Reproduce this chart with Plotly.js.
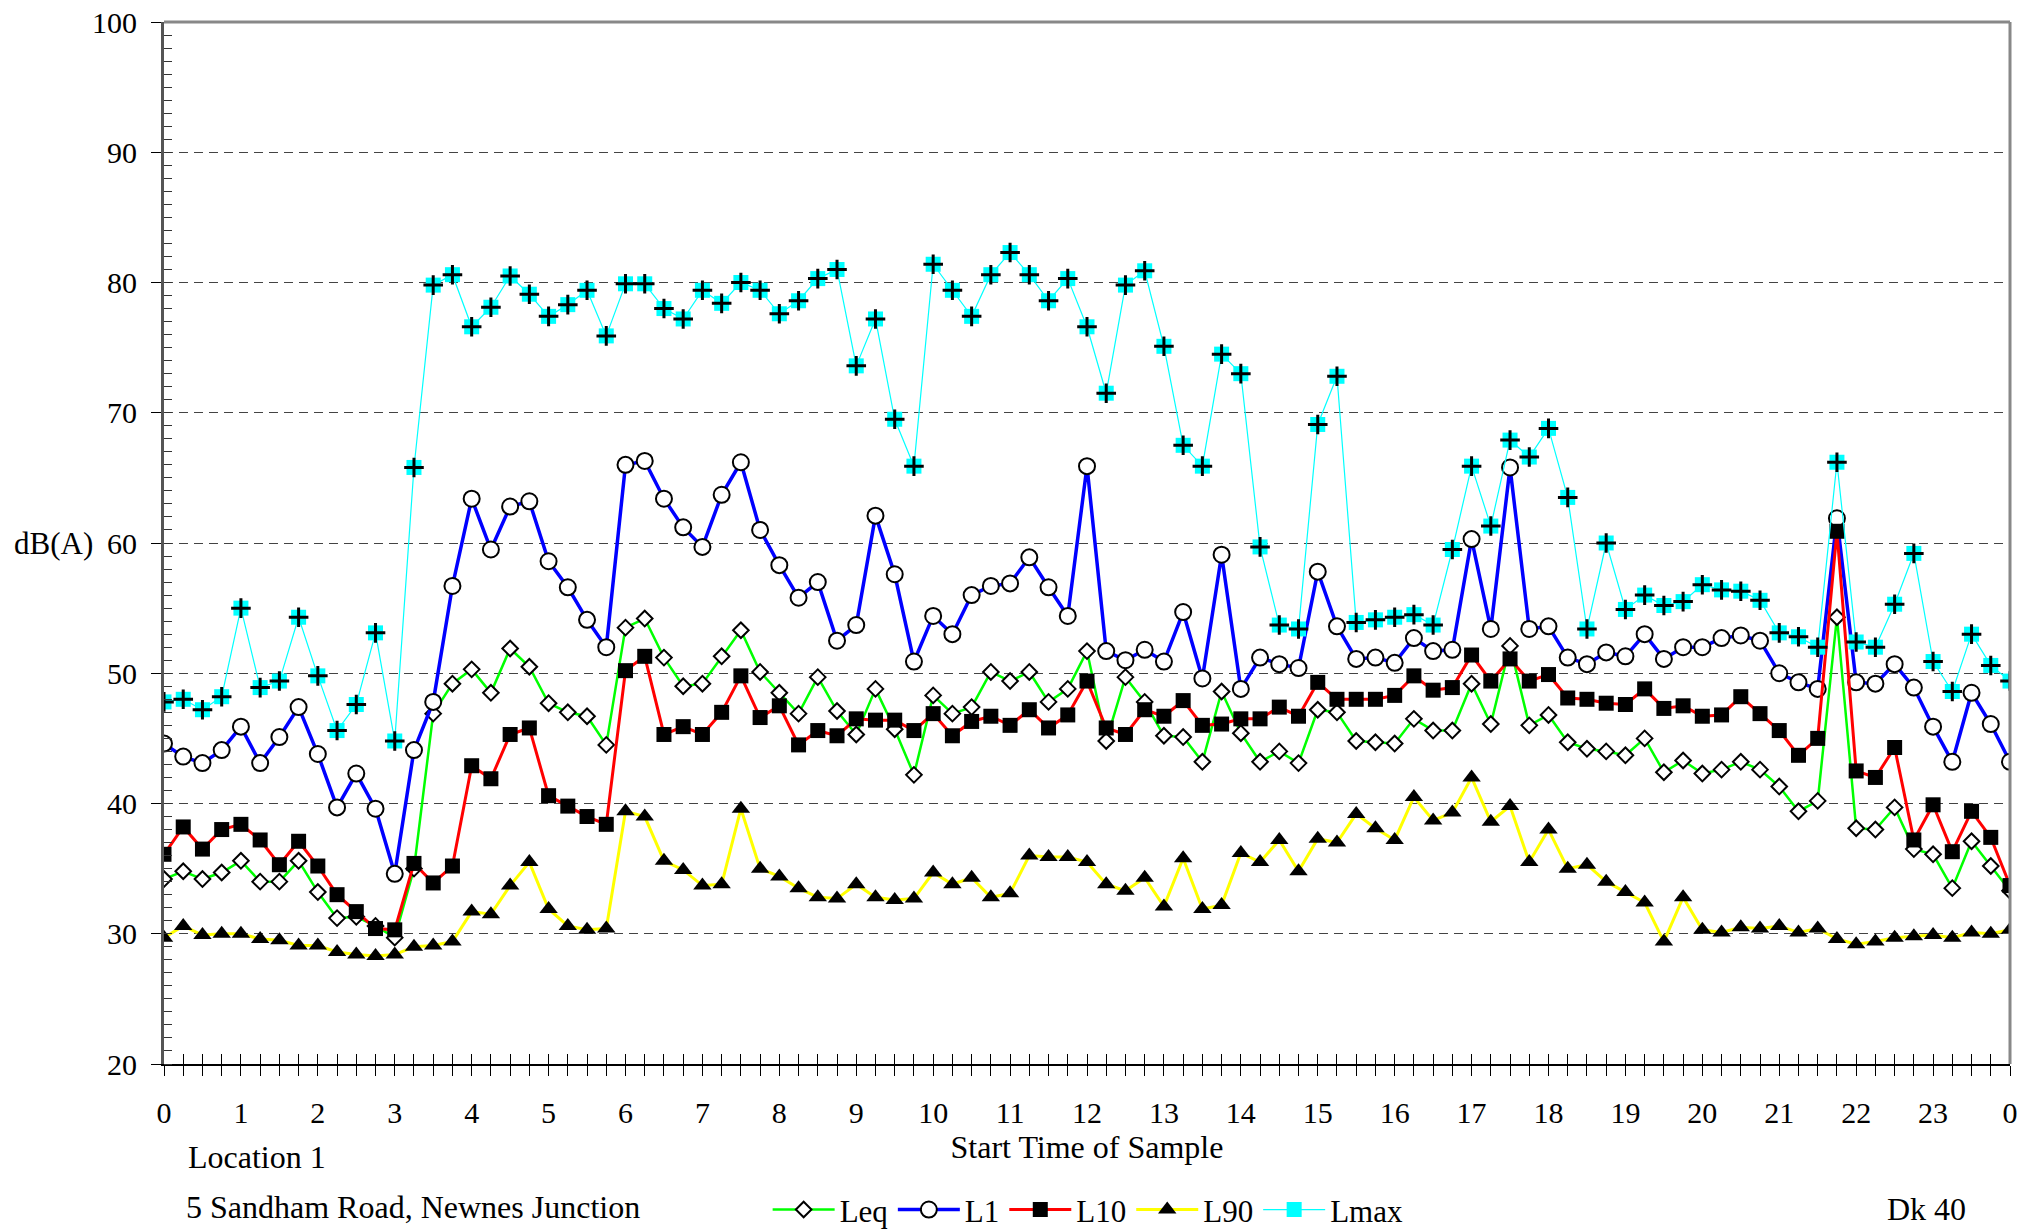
<!DOCTYPE html>
<html>
<head>
<meta charset="utf-8">
<script src="https://cdn.plot.ly/plotly-3.0.1.min.js"></script>
<style>
  html, body { margin: 0; padding: 0; background: #ffffff; }
  #chart { width: 2034px; height: 1229px; }
</style>
</head>
<body>
<div id="chart"></div>
<script>
// Start time of sample (hours)
const times = [
  0, 0.25, 0.5, 0.75, 1, 1.25, 1.5, 1.75, 2, 2.25, 2.5, 2.75, 3, 3.25, 3.5, 3.75,
  4, 4.25, 4.5, 4.75, 5, 5.25, 5.5, 5.75, 6, 6.25, 6.5, 6.75, 7, 7.25, 7.5, 7.75,
  8, 8.25, 8.5, 8.75, 9, 9.25, 9.5, 9.75, 10, 10.25, 10.5, 10.75, 11, 11.25, 11.5, 11.75,
  12, 12.25, 12.5, 12.75, 13, 13.25, 13.5, 13.75, 14, 14.25, 14.5, 14.75, 15, 15.25, 15.5, 15.75,
  16, 16.25, 16.5, 16.75, 17, 17.25, 17.5, 17.75, 18, 18.25, 18.5, 18.75, 19, 19.25, 19.5, 19.75,
  20, 20.25, 20.5, 20.75, 21, 21.25, 21.5, 21.75, 22, 22.25, 22.5, 22.75, 23, 23.25, 23.5, 23.75,
  24
];

const leq = [
  34.2, 34.8, 34.2, 34.7, 35.6, 34.0, 34.0, 35.6, 33.2, 31.2, 31.3, 30.6, 29.7, 35.0, 46.9, 49.2,
  50.3, 48.5, 51.9, 50.5, 47.7, 47.0, 46.7, 44.5, 53.5, 54.2, 51.2, 49.0, 49.2, 51.3, 53.3, 50.1,
  48.5, 46.9, 49.7, 47.1, 45.3, 48.8, 45.7, 42.2, 48.3, 46.9, 47.4, 50.1, 49.4, 50.1, 47.8, 48.8,
  51.7, 44.8, 49.7, 47.8, 45.2, 45.1, 43.2, 48.6, 45.4, 43.2, 44.0, 43.1, 47.2, 47.0, 44.8, 44.7,
  44.6, 46.5, 45.6, 45.6, 49.2, 46.1, 52.1, 46.0, 46.8, 44.7, 44.2, 44.0, 43.7, 45.0, 42.4, 43.3,
  42.3, 42.6, 43.2, 42.6, 41.3, 39.4, 40.2, 54.3, 38.1, 38.0, 39.7, 36.5, 36.1, 33.5, 37.1, 35.2,
  33.3
];

const l1 = [
  44.6, 43.6, 43.1, 44.1, 45.9, 43.1, 45.1, 47.4, 43.8, 39.7, 42.3, 39.6, 34.6, 44.1, 47.8, 56.7,
  63.4, 59.5, 62.8, 63.2, 58.6, 56.6, 54.1, 52.0, 66.0, 66.3, 63.4, 61.2, 59.7, 63.7, 66.2, 61.0,
  58.3, 55.8, 57.0, 52.5, 53.7, 62.1, 57.6, 50.9, 54.4, 53.0, 56.0, 56.7, 56.9, 58.9, 56.6, 54.4,
  65.9, 51.7, 51.0, 51.8, 50.9, 54.7, 49.6, 59.1, 48.8, 51.2, 50.7, 50.4, 57.8, 53.6, 51.1, 51.2,
  50.8, 52.7, 51.7, 51.8, 60.3, 53.4, 65.8, 53.4, 53.6, 51.2, 50.7, 51.6, 51.3, 53.0, 51.1, 52.0,
  52.0, 52.7, 52.9, 52.5, 50.0, 49.3, 48.8, 61.9, 49.3, 49.2, 50.7, 48.9, 45.9, 43.2, 48.5, 46.1,
  43.2
];

const l10 = [
  36.1, 38.2, 36.5, 38.0, 38.4, 37.2, 35.3, 37.1, 35.2, 33.0, 31.7, 30.4, 30.3, 35.4, 33.9, 35.2,
  42.9, 41.9, 45.3, 45.8, 40.6, 39.8, 39.0, 38.4, 50.2, 51.3, 45.3, 45.9, 45.3, 47.0, 49.8, 46.6,
  47.5, 44.5, 45.6, 45.2, 46.5, 46.4, 46.4, 45.6, 46.9, 45.2, 46.3, 46.7, 46.0, 47.2, 45.8, 46.8,
  49.4, 45.8, 45.3, 47.2, 46.7, 47.9, 46.0, 46.1, 46.5, 46.5, 47.4, 46.7, 49.3, 48.0, 48.0, 48.0,
  48.3, 49.8, 48.7, 48.9, 51.4, 49.4, 51.1, 49.4, 49.9, 48.1, 48.0, 47.7, 47.6, 48.8, 47.3, 47.5,
  46.7, 46.8, 48.2, 46.9, 45.6, 43.7, 45.0, 60.9, 42.5, 42.0, 44.3, 37.2, 39.9, 36.3, 39.4, 37.4,
  33.7
];

const l90 = [
  29.7, 30.6, 29.9, 30.0, 30.0, 29.6, 29.5, 29.1, 29.1, 28.6, 28.4, 28.3, 28.4, 29.0, 29.1, 29.4,
  31.7, 31.5, 33.7, 35.5, 31.9, 30.6, 30.3, 30.4, 39.4, 39.0, 35.6, 34.9, 33.7, 33.8, 39.6, 35.0,
  34.4, 33.5, 32.8, 32.7, 33.8, 32.8, 32.6, 32.7, 34.7, 33.8, 34.3, 32.8, 33.1, 36.0, 35.9, 35.9,
  35.5, 33.8, 33.3, 34.3, 32.1, 35.8, 31.9, 32.2, 36.2, 35.5, 37.2, 34.8, 37.3, 37.0, 39.2, 38.1,
  37.2, 40.5, 38.7, 39.3, 42.0, 38.6, 39.8, 35.5, 38.0, 35.0, 35.3, 34.0, 33.2, 32.4, 29.4, 32.8,
  30.3, 30.1, 30.5, 30.4, 30.6, 30.1, 30.4, 29.6, 29.2, 29.4, 29.7, 29.8, 29.9, 29.7, 30.1, 30.0,
  30.3
];

const lmax = [
  47.8, 48.0, 47.2, 48.2, 55.0, 48.9, 49.4, 54.3, 49.8, 45.6, 47.6, 53.1, 44.8, 65.8, 79.8, 80.6,
  76.6, 78.1, 80.5, 79.1, 77.4, 78.3, 79.4, 75.9, 79.9, 79.9, 78.0, 77.2, 79.4, 78.4, 80.0, 79.4,
  77.6, 78.6, 80.3, 81.0, 73.6, 77.2, 69.5, 65.9, 81.4, 79.4, 77.4, 80.6, 82.3, 80.6, 78.6, 80.3,
  76.6, 71.5, 79.8, 80.9, 75.1, 67.5, 65.9, 74.5, 73.0, 59.7, 53.7, 53.4, 69.1, 72.8, 53.9, 54.1,
  54.3, 54.5, 53.7, 59.5, 65.9, 61.3, 67.9, 66.6, 68.8, 63.5, 53.4, 60.0, 54.9, 56.0, 55.2, 55.5,
  56.8, 56.4, 56.3, 55.6, 53.1, 52.8, 52.0, 66.2, 52.4, 52.0, 55.3, 59.2, 50.9, 48.6, 53.0, 50.6,
  49.4
];

const hourTicks = [0,1,2,3,4,5,6,7,8,9,10,11,12,13,14,15,16,17,18,19,20,21,22,23,24];
const hourLabels = ['0','1','2','3','4','5','6','7','8','9','10','11','12','13','14','15','16','17','18','19','20','21','22','23','0'];

const FONT = 'Liberation Serif, Times New Roman, serif';

const traces = [
  {
    name: 'Leq', x: times, y: leq, type: 'scatter', mode: 'lines+markers',
    line: { color: '#00FF00', width: 2.5 },
    marker: { symbol: 'diamond', size: 12, color: '#FFFFFF', line: { color: '#000000', width: 2 } }
  },
  {
    name: 'L1', x: times, y: l1, type: 'scatter', mode: 'lines+markers',
    line: { color: '#0000FF', width: 3.5 },
    marker: { symbol: 'circle', size: 16, color: '#FFFFFF', line: { color: '#000000', width: 2 } }
  },
  {
    name: 'L10', x: times, y: l10, type: 'scatter', mode: 'lines+markers',
    line: { color: '#FF0000', width: 3 },
    marker: { symbol: 'square', size: 15, color: '#000000' }
  },
  {
    name: 'L90', x: times, y: l90, type: 'scatter', mode: 'lines+markers',
    line: { color: '#FFFF00', width: 3 },
    marker: { symbol: 'triangle-up', size: 16, color: '#000000' }
  },
  {
    name: 'Lmax', x: times, y: lmax, type: 'scatter', mode: 'lines+markers',
    legendgroup: 'lmax',
    line: { color: '#00FFFF', width: 1.2 },
    marker: { symbol: 'square', size: 15, color: '#00FFFF' }
  },
  {
    name: 'Lmax', x: times, y: lmax, type: 'scatter', mode: 'markers',
    legendgroup: 'lmax', showlegend: false, xaxis: 'x2', yaxis: 'y',
    marker: { symbol: 'cross-thin', size: 14, color: '#000000', line: { color: '#000000', width: 3 } }
  }
];

const layout = {
  width: 2034, height: 1229,
  margin: { l: 164, r: 24, t: 22, b: 165, autoexpand: false },
  paper_bgcolor: '#FFFFFF', plot_bgcolor: '#FFFFFF',
  font: { family: FONT, size: 30, color: '#000000' },
  showlegend: true,
  legend: {
    orientation: 'h', x: 0.327, y: -0.14, xanchor: 'left', yanchor: 'middle',
    itemwidth: 62,
    font: { family: FONT, size: 31, color: '#000000' }, bgcolor: 'rgba(0,0,0,0)'
  },
  xaxis: {
    range: [0, 24], tickmode: 'array', tickvals: hourTicks, ticktext: hourLabels,
    ticks: 'outside', ticklen: 10, tickwidth: 1, tickcolor: '#000000',
    showline: true, linecolor: '#000000', linewidth: 2,
    showgrid: false, zeroline: false, automargin: false,
    ticklabelstandoff: 11,
    tickfont: { family: FONT, size: 30, color: '#000000' },
    minor: { ticks: 'outside', tickmode: 'linear', tick0: 0, dtick: 0.25, ticklen: 10, tickwidth: 1, tickcolor: '#000000', showgrid: false },
    title: { text: 'Start Time of Sample', font: { family: FONT, size: 32, color: '#000000' }, standoff: 2 }
  },
  xaxis2: {
    overlaying: 'x', anchor: 'y', side: 'bottom', range: [0, 24],
    tickmode: 'linear', tick0: 0, dtick: 0.25, automargin: false,
    ticks: 'inside', ticklen: 10, tickwidth: 1, tickcolor: '#000000',
    showticklabels: false, showline: false, showgrid: false, zeroline: false
  },
  yaxis: {
    range: [20, 100], tickmode: 'linear', tick0: 20, dtick: 10,
    ticks: 'outside', ticklen: 10, tickwidth: 1, tickcolor: '#000000',
    showline: true, linecolor: '#555555', linewidth: 3,
    showgrid: true, gridcolor: '#444444', gridwidth: 1, griddash: '9px,6px',
    zeroline: false, automargin: false,
    ticklabelstandoff: 8,
    tickfont: { family: FONT, size: 30, color: '#000000' },
    minor: { ticks: 'inside', tickmode: 'linear', tick0: 20, dtick: 1, ticklen: 8, tickwidth: 1, tickcolor: '#333333', showgrid: false }
  },
  shapes: [
    { type: 'line', xref: 'paper', yref: 'paper', x0: 0, x1: 1, y0: 1, y1: 1, line: { color: '#888888', width: 3 } },
    { type: 'line', xref: 'paper', yref: 'paper', x0: 1, x1: 1, y0: 0, y1: 1, line: { color: '#888888', width: 3 } }
  ],
  annotations: [
    { text: 'dB(A)', xref: 'paper', yref: 'paper', x: -0.060, y: 0.5, xanchor: 'center', yanchor: 'middle', showarrow: false, font: { family: FONT, size: 31, color: '#000000' } },
    { text: 'Location 1', xref: 'paper', yref: 'paper', x: 0.012, y: -0.089, xanchor: 'left', yanchor: 'middle', showarrow: false, font: { family: FONT, size: 32, color: '#000000' } },
    { text: '5 Sandham Road, Newnes Junction', xref: 'paper', yref: 'paper', x: 0.011, y: -0.137, xanchor: 'left', yanchor: 'middle', showarrow: false, font: { family: FONT, size: 32, color: '#000000' } },
    { text: 'Dk 40', xref: 'paper', yref: 'paper', x: 0.955, y: -0.139, xanchor: 'center', yanchor: 'middle', showarrow: false, font: { family: FONT, size: 32, color: '#000000' } }
  ]
};

Plotly.newPlot('chart', traces, layout, { displayModeBar: false, staticPlot: true });
</script>
</body>
</html>
